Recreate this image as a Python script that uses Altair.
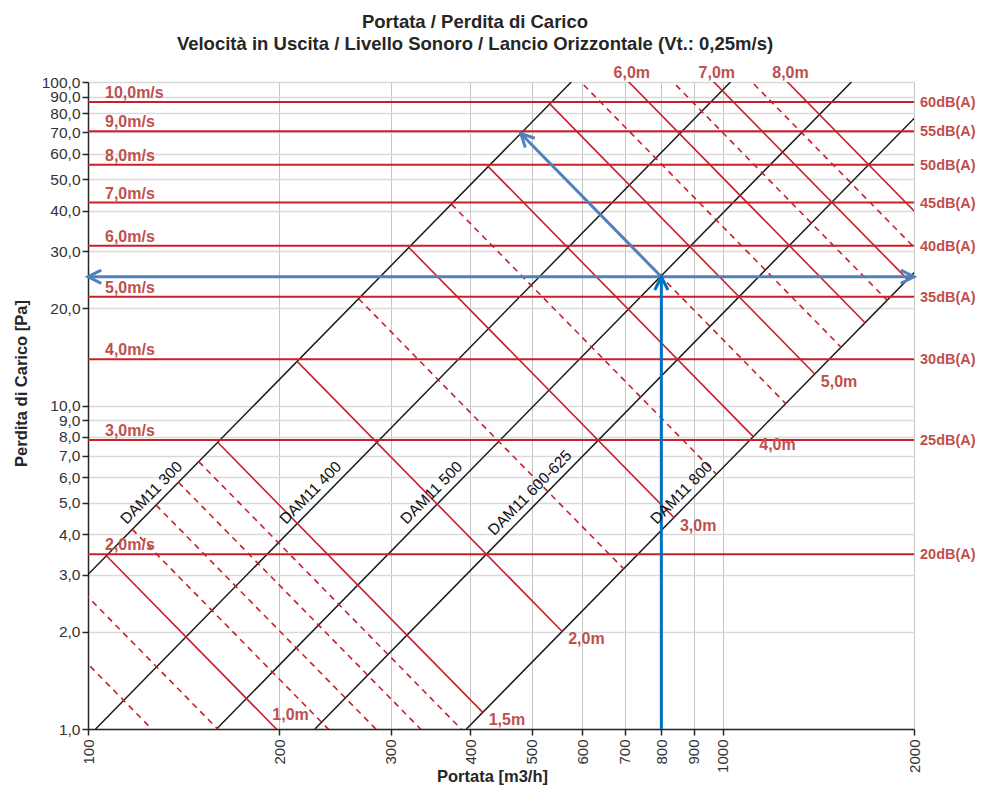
import math
import altair as alt
import pandas as pd

# ---------------- values ----------------
flow_ticks = [100, 200, 300, 400, 500, 600, 700, 800, 900, 1000, 2000]
pressure_ticks = [1, 2, 3, 4, 5, 6, 7, 8, 9, 10, 20, 30, 40, 50, 60, 70, 80, 90, 100]

title_lines = ["Portata / Perdita di Carico",
               "Velocità in Uscita / Livello Sonoro / Lancio Orizzontale (Vt.: 0,25m/s)"]

# black model lines: P = (Q / q1)^2  (q1 = flow at 1 Pa)
model_names = ["DAM11 300", "DAM11 400", "DAM11 500", "DAM11 600-625", "DAM11 800"]
model_flow_at_1pa = [57.7, 102.8, 159.4, 227.7, 394.5]
model_label_pa = 5.06

# outlet velocity lines (horizontal) and sound levels
velocity_labels = ["2,0m/s", "3,0m/s", "4,0m/s", "5,0m/s", "6,0m/s",
                   "7,0m/s", "8,0m/s", "9,0m/s", "10,0m/s"]
velocity_pa = [3.47, 7.82, 13.9, 21.7, 31.2, 42.4, 55.5, 70.4, 86.7]
sound_labels = ["20dB(A)", "25dB(A)", "30dB(A)", "35dB(A)", "40dB(A)",
                "45dB(A)", "50dB(A)", "55dB(A)", "60dB(A)"]

# throw lines: P = (q1 / Q)^2  (q1 = flow at 1 Pa)
throw_names = ["0,8m", "0,9m", "1,0m", "1,1m", "1,2m", "1,3m", "1,4m", "1,5m",
               "2,0m", "2,5m", "3,0m", "3,5m", "4,0m", "4,5m", "5,0m", "5,5m",
               "6,0m", "6,5m", "7,0m", "7,5m", "8,0m"]
throw_flow_at_1pa = [126, 160, 198, 239, 284, 334, 387, 444,
                     790, 1234, 1777, 2419, 3160, 3999, 4937, 5974,
                     7110, 8344, 9677, 11109, 12640]
throw_style = ["dashed", "dashed", "solid", "dashed", "dashed", "dashed", "dashed", "solid",
               "solid", "dashed", "solid", "dashed", "solid", "dashed", "solid", "dashed",
               "solid", "dashed", "solid", "dashed", "solid"]
throw_end_labels = ["1,5m", "2,0m", "3,0m", "4,0m", "5,0m"]
throw_top_labels = ["6,0m", "7,0m", "8,0m"]
throw_bottom_labels = ["1,0m"]

example_flow = 800
example_pa = 25

# ---------------- styling ----------------
W, H = 826, 647
RED = "#C8202B"
LRED = "#C0504D"
BLACK = "#1a1a1a"
BLUE_DARK = "#0070C0"
BLUE = "#4F81BD"
FONT = "Liberation Sans"

px_dec_x = W / math.log10(flow_ticks[-1] / flow_ticks[0])
px_dec_y = H / math.log10(pressure_ticks[-1] / pressure_ticks[0])
slope_deg = math.degrees(math.atan(2 * px_dec_y / px_dec_x))

# ---------------- tables ----------------
q_first = model_flow_at_1pa[0]
q_last = model_flow_at_1pa[-1]

rows = []
for n, q1 in zip(model_names, model_flow_at_1pa):
    rows.append(dict(id=n, Q=q1, P=1.0))
    rows.append(dict(id=n, Q=q1 * 10, P=100.0))
model_df = pd.DataFrame(rows)

model_lab_df = pd.DataFrame({
    "text": model_names,
    "Q": [q1 * math.sqrt(model_label_pa) for q1 in model_flow_at_1pa],
    "P": [model_label_pa] * len(model_names),
})

vel_df = pd.DataFrame({"P": velocity_pa})
vel_lab_df = pd.DataFrame({"P": velocity_pa, "text": velocity_labels,
                           "Q": [flow_ticks[0]] * len(velocity_pa)})
db_lab_df = pd.DataFrame({"P": velocity_pa, "text": sound_labels,
                          "Q": [flow_ticks[-1]] * len(velocity_pa)})

rows = []
q1_of = {}
for n, q1, st in zip(throw_names, throw_flow_at_1pa, throw_style):
    q1_of[n] = q1
    rows.append(dict(id=n, style=st, Q=math.sqrt(q1 * q_first), P=q1 / q_first))
    rows.append(dict(id=n, style=st, Q=math.sqrt(q1 * q_last), P=q1 / q_last))
throw_df = pd.DataFrame(rows)
throw_solid = throw_df[throw_df["style"] == "solid"]
throw_dashed = throw_df[throw_df["style"] == "dashed"]

end_lab_df = pd.DataFrame({
    "text": throw_end_labels,
    "Q": [math.sqrt(q1_of[t] * q_last) for t in throw_end_labels],
    "P": [q1_of[t] / q_last for t in throw_end_labels],
})
top_lab_df = pd.DataFrame({
    "text": throw_top_labels,
    "Q": [q1_of[t] / 10 for t in throw_top_labels],
    "P": [100.0] * len(throw_top_labels),
})
bot_lab_df = pd.DataFrame({
    "text": throw_bottom_labels,
    "Q": [q1_of[t] for t in throw_bottom_labels],
    "P": [1.0] * len(throw_bottom_labels),
})

ex_q1 = example_flow * math.sqrt(example_pa)
diag_Q = math.sqrt(ex_q1 * q_first)
diag_P = ex_q1 / q_first
vert_df = pd.DataFrame({"Q": [example_flow, example_flow], "P": [pressure_ticks[0], example_pa]})
horiz_df = pd.DataFrame({"Q": [flow_ticks[0], flow_ticks[-1]], "P": [example_pa, example_pa]})
diag_df = pd.DataFrame({"Q": [example_flow, diag_Q], "P": [example_pa, diag_P]})
heads_df = pd.DataFrame({
    "Q": [example_flow, flow_ticks[0], flow_ticks[-1], diag_Q],
    "P": [example_pa, example_pa, example_pa, diag_P],
    "ang": [0, 270, 90, 360 - (90 - slope_deg)],
    "col": [BLUE_DARK, BLUE, BLUE, BLUE],
})

# ---------------- scales / axes ----------------
xs = alt.Scale(type="log", domain=[flow_ticks[0], flow_ticks[-1]], nice=False)
ys = alt.Scale(type="log", domain=[pressure_ticks[0], pressure_ticks[-1]], nice=False)

x_axis = alt.Axis(values=flow_ticks, format="d", labelAngle=270, labelFontSize=15,
                  labelColor="#333333", labelPadding=4, labelOverlap=False, labelFlush=False,
                  tickSize=6, tickColor="#262626", tickWidth=1.5,
                  domainColor="#262626", domainWidth=1.5,
                  grid=True, gridColor="#c4c4c4", gridWidth=1,
                  title="Portata [m3/h]", titleFontSize=16.5, titleFontWeight="bold",
                  titleColor="#262626", titleX=404, titleY=47, titleBaseline="middle",
                  titleAlign="center")
y_axis = alt.Axis(values=pressure_ticks,
                  labelExpr="replace(format(datum.value, '.1f'), '.', ',')",
                  labelFontSize=15.5, labelColor="#333333", labelPadding=2,
                  labelOverlap=False, labelFlush=False,
                  tickSize=6, tickColor="#262626", tickWidth=1.5,
                  domainColor="#262626", domainWidth=1.5,
                  grid=True, gridColor="#d9d9d9", gridWidth=1.5,
                  title="Perdita di Carico [Pa]", titleFontSize=16.5, titleFontWeight="bold",
                  titleColor="#262626", titleAngle=270, titleX=-67, titleY=301,
                  titleBaseline="middle", titleAlign="center")


def XY(data):
    return alt.Chart(data).encode(
        x=alt.X("Q:Q", scale=xs, axis=x_axis),
        y=alt.Y("P:Q", scale=ys, axis=y_axis),
    )


vel_rules = alt.Chart(vel_df).mark_rule(color=RED, strokeWidth=2).encode(
    y=alt.Y("P:Q", scale=ys, axis=y_axis))

models = XY(model_df).mark_line(color=BLACK, strokeWidth=1.5, clip=True).encode(detail="id:N")

t_solid = XY(throw_solid).mark_line(color=RED, strokeWidth=1.6, clip=True).encode(detail="id:N")
t_dash = XY(throw_dashed).mark_line(color=RED, strokeWidth=1.6, strokeDash=[6, 5],
                                    clip=True).encode(detail="id:N")

b_vert = XY(vert_df).mark_line(color=BLUE_DARK, strokeWidth=3)
b_horiz = XY(horiz_df).mark_line(color=BLUE, strokeWidth=3)
b_diag = XY(diag_df).mark_line(color=BLUE, strokeWidth=3)
heads = XY(heads_df).mark_point(shape="M -0.5 1 L 0 0 L 0.5 1", filled=False, size=700,
                                strokeWidth=3, opacity=1).encode(
    angle=alt.Angle("ang:Q", scale=None),
    color=alt.Color("col:N", scale=None))

label_style = dict(fontSize=16, fontWeight="bold", color=LRED, font=FONT)
vel_text = XY(vel_lab_df).mark_text(align="left", baseline="alphabetic", dx=17, dy=-4,
                                    **label_style).encode(text="text:N")
db_text = XY(db_lab_df).mark_text(align="left", baseline="middle", dx=6, dy=1,
                                  fontSize=14.5, fontWeight="bold", color=LRED,
                                  font=FONT).encode(text="text:N")
model_text = XY(model_lab_df).mark_text(angle=360 - slope_deg, align="center",
                                        baseline="alphabetic", dy=-7, fontSize=15.5,
                                        color="#111111", font=FONT).encode(text="text:N")
end_text = XY(end_lab_df).mark_text(align="left", baseline="middle", dx=6, dy=8,
                                    **label_style).encode(text="text:N")
top_text = XY(top_lab_df).mark_text(align="center", baseline="middle", dx=3, dy=-9,
                                    **label_style).encode(text="text:N")
bot_text = XY(bot_lab_df).mark_text(align="left", baseline="middle", dx=-4, dy=-14,
                                    **label_style).encode(text="text:N")

title_style = dict(align="center", baseline="middle", fontSize=18.5, fontWeight="bold",
                   color="#262626", font=FONT)
title1 = alt.Chart(pd.DataFrame({"text": [title_lines[0]]})).mark_text(**title_style).encode(
    x=alt.value(W / 2 - 26), y=alt.value(-60), text="text:N")
title2 = alt.Chart(pd.DataFrame({"text": [title_lines[1]]})).mark_text(**title_style).encode(
    x=alt.value(W / 2 - 26), y=alt.value(-38), text="text:N")

chart = alt.layer(
    models, vel_rules, t_solid, t_dash, b_vert, b_horiz, b_diag, heads,
    vel_text, db_text, model_text, end_text, top_text, bot_text, title1, title2,
).properties(
    width=W, height=H,
    padding={"left": 80, "top": 74, "right": 62, "bottom": 56},
    autosize=alt.AutoSizeParams(type="none"),
).configure(font=FONT).configure_view(stroke="#a6a6a6", strokeWidth=1)

chart.save("out.html", embed_options={"renderer": "svg", "actions": False})
